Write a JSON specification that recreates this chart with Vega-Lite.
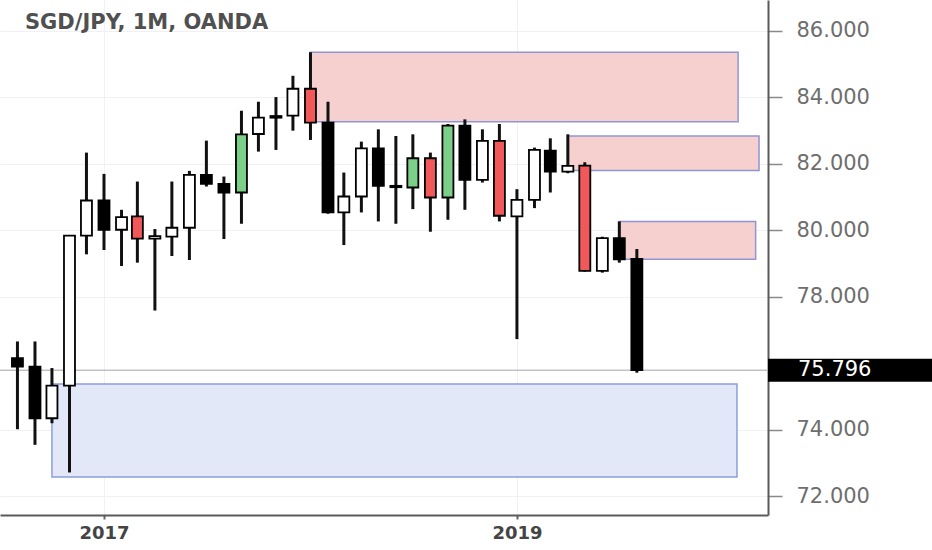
{
  "$schema": "https://vega.github.io/schema/vega-lite/v6.json",
  "width": 768,
  "height": 515,
  "autosize": {"type": "none"},
  "padding": {"left": 0, "top": 0, "right": 164, "bottom": 35},
  "background": "#ffffff",
  "title": {
    "text": "SGD/JPY, 1M, OANDA",
    "anchor": "start",
    "frame": "group",
    "orient": "top",
    "offset": 0,
    "dx": 25,
    "dy": 50,
    "baseline": "alphabetic",
    "font": "DejaVu Sans",
    "fontSize": 21,
    "fontWeight": "bold",
    "color": "#505050"
  },
  "config": {
    "view": {"stroke": null},
    "font": "DejaVu Sans",
    "axisY": {
      "orient": "right",
      "domainColor": "#5a5a5a",
      "domainWidth": 2,
      "tickColor": "#8a8a8a",
      "tickWidth": 1.5,
      "tickSize": 14,
      "labelPadding": 14,
      "labelFont": "DejaVu Sans",
      "labelFontSize": 21,
      "labelColor": "#6e6e6e",
      "gridColor": "#eff1f5",
      "gridWidth": 1,
      "title": null
    },
    "axisX": {
      "domainColor": "#5a5a5a",
      "domainWidth": 2,
      "tickColor": "#666666",
      "tickWidth": 2,
      "tickSize": 4,
      "labelPadding": 5,
      "labelFont": "DejaVu Sans",
      "labelFontSize": 18,
      "labelFontWeight": "bold",
      "labelColor": "#444444",
      "gridColor": "#eff1f5",
      "gridWidth": 1,
      "title": null
    }
  },
  "datasets": {
    "candles": [
      {"date": "2016-08-01", "open": 76.16, "high": 76.66, "low": 74.02, "close": 75.90, "kind": "bear"},
      {"date": "2016-09-01", "open": 75.90, "high": 76.66, "low": 73.55, "close": 74.35, "kind": "bear"},
      {"date": "2016-10-01", "open": 74.35, "high": 75.86, "low": 74.20, "close": 75.33, "kind": "bull"},
      {"date": "2016-11-01", "open": 75.33, "high": 79.84, "low": 72.72, "close": 79.84, "kind": "bull"},
      {"date": "2016-12-01", "open": 79.84, "high": 82.34, "low": 79.28, "close": 80.90, "kind": "bull"},
      {"date": "2017-01-01", "open": 80.90, "high": 81.70, "low": 79.41, "close": 80.02, "kind": "bear"},
      {"date": "2017-02-01", "open": 80.02, "high": 80.62, "low": 78.93, "close": 80.40, "kind": "bull"},
      {"date": "2017-03-01", "open": 80.42, "high": 81.47, "low": 79.03, "close": 79.75, "kind": "bear_mark"},
      {"date": "2017-04-01", "open": 79.75, "high": 80.04, "low": 77.59, "close": 79.83, "kind": "bull"},
      {"date": "2017-05-01", "open": 79.81, "high": 81.47, "low": 79.23, "close": 80.08, "kind": "bull"},
      {"date": "2017-06-01", "open": 80.08, "high": 81.79, "low": 79.11, "close": 81.67, "kind": "bull"},
      {"date": "2017-07-01", "open": 81.67, "high": 82.70, "low": 81.32, "close": 81.40, "kind": "bear"},
      {"date": "2017-08-01", "open": 81.40, "high": 81.62, "low": 79.74, "close": 81.14, "kind": "bear"},
      {"date": "2017-09-01", "open": 81.14, "high": 83.60, "low": 80.20, "close": 82.89, "kind": "bull_mark"},
      {"date": "2017-10-01", "open": 82.90, "high": 83.87, "low": 82.37, "close": 83.39, "kind": "bull"},
      {"date": "2017-11-01", "open": 83.39, "high": 84.01, "low": 82.42, "close": 83.44, "kind": "bear"},
      {"date": "2017-12-01", "open": 83.45, "high": 84.65, "low": 83.00, "close": 84.26, "kind": "bull"},
      {"date": "2018-01-01", "open": 84.26, "high": 85.36, "low": 82.72, "close": 83.24, "kind": "bear_mark"},
      {"date": "2018-02-01", "open": 83.24, "high": 83.87, "low": 80.50, "close": 80.54, "kind": "bear"},
      {"date": "2018-03-01", "open": 80.54, "high": 81.74, "low": 79.56, "close": 81.02, "kind": "bull"},
      {"date": "2018-04-01", "open": 81.02, "high": 82.67, "low": 80.54, "close": 82.47, "kind": "bull"},
      {"date": "2018-05-01", "open": 82.47, "high": 83.04, "low": 80.27, "close": 81.34, "kind": "bear"},
      {"date": "2018-06-01", "open": 81.34, "high": 82.84, "low": 80.20, "close": 81.30, "kind": "bear"},
      {"date": "2018-07-01", "open": 81.29, "high": 82.89, "low": 80.64, "close": 82.17, "kind": "bull_mark"},
      {"date": "2018-08-01", "open": 82.17, "high": 82.34, "low": 79.96, "close": 80.99, "kind": "bear_mark"},
      {"date": "2018-09-01", "open": 80.99, "high": 83.20, "low": 80.32, "close": 83.15, "kind": "bull_mark"},
      {"date": "2018-10-01", "open": 83.15, "high": 83.34, "low": 80.62, "close": 81.52, "kind": "bear"},
      {"date": "2018-11-01", "open": 81.52, "high": 83.04, "low": 81.44, "close": 82.69, "kind": "bull"},
      {"date": "2018-12-01", "open": 82.69, "high": 83.20, "low": 80.27, "close": 80.44, "kind": "bear_mark"},
      {"date": "2019-01-01", "open": 80.42, "high": 81.24, "low": 76.73, "close": 80.92, "kind": "bull"},
      {"date": "2019-02-01", "open": 80.92, "high": 82.49, "low": 80.67, "close": 82.42, "kind": "bull"},
      {"date": "2019-03-01", "open": 82.40, "high": 82.77, "low": 81.14, "close": 81.77, "kind": "bear"},
      {"date": "2019-04-01", "open": 81.77, "high": 82.89, "low": 81.72, "close": 81.94, "kind": "bull"},
      {"date": "2019-05-01", "open": 81.95, "high": 82.05, "low": 78.76, "close": 78.78, "kind": "bear_mark"},
      {"date": "2019-06-01", "open": 78.78, "high": 79.81, "low": 78.73, "close": 79.77, "kind": "bull"},
      {"date": "2019-07-01", "open": 79.77, "high": 80.27, "low": 79.03, "close": 79.13, "kind": "bear"},
      {"date": "2019-08-01", "open": 79.14, "high": 79.44, "low": 75.72, "close": 75.796, "kind": "bear"}
    ],
    "zones": [
      {"start": "2018-01-01", "end": "2020-01-27", "low": 83.27, "high": 85.36, "zone": "supply"},
      {"start": "2019-04-01", "end": "2020-03-04", "low": 81.80, "high": 82.84, "zone": "supply"},
      {"start": "2019-07-01", "end": "2020-02-27", "low": 79.13, "high": 80.27, "zone": "supply"},
      {"start": "2016-10-01", "end": "2020-01-25", "low": 72.58, "high": 75.38, "zone": "demand"}
    ],
    "last": [{"price": 75.796, "label": "75.796"}]
  },
  "layer": [
    {
      "data": {"name": "zones"},
      "mark": {"type": "rect", "strokeWidth": 1.5},
      "encoding": {
        "x": {"field": "start", "type": "temporal", "scale": {"type": "utc", "domain": ["2016-07-10", "2020-03-11"]},
              "axis": {"values": [{"year": 2017, "month": 1, "date": 1, "utc": true}, {"year": 2019, "month": 1, "date": 1, "utc": true}], "format": "%Y", "grid": true}},
        "x2": {"field": "end"},
        "y": {"field": "low", "type": "quantitative", "scale": {"domain": [71.44, 86.93], "nice": false, "zero": false},
              "axis": {"values": [72, 74, 78, 80, 82, 84, 86], "format": ".3f", "grid": true}},
        "y2": {"field": "high"},
        "fill": {"field": "zone", "type": "nominal", "scale": {"domain": ["supply", "demand"], "range": ["#f6cfcf", "#e3e8f8"]}, "legend": null},
        "stroke": {"field": "zone", "type": "nominal", "scale": {"domain": ["supply", "demand"], "range": ["#9096d4", "#8b9ddf"]}, "legend": null}
      }
    },
    {
      "data": {"name": "last"},
      "mark": {"type": "rule", "color": "#a3a3a3", "strokeWidth": 1},
      "encoding": {
        "y": {"field": "price", "type": "quantitative", "scale": {"domain": [71.44, 86.93], "nice": false, "zero": false}}
      }
    },
    {
      "data": {"name": "candles"},
      "mark": {"type": "rule", "color": "#111111", "strokeWidth": 3},
      "encoding": {
        "x": {"field": "date", "type": "temporal", "scale": {"type": "utc", "domain": ["2016-07-10", "2020-03-11"]}},
        "y": {"field": "low", "type": "quantitative", "scale": {"domain": [71.44, 86.93], "nice": false, "zero": false}},
        "y2": {"field": "high"}
      }
    },
    {
      "data": {"name": "candles"},
      "mark": {"type": "bar", "width": 11, "stroke": "#000000", "strokeWidth": 1.8},
      "encoding": {
        "x": {"field": "date", "type": "temporal", "scale": {"type": "utc", "domain": ["2016-07-10", "2020-03-11"]}},
        "y": {"field": "open", "type": "quantitative", "scale": {"domain": [71.44, 86.93], "nice": false, "zero": false}},
        "y2": {"field": "close"},
        "color": {"field": "kind", "type": "nominal", "scale": {"domain": ["bull", "bear", "bull_mark", "bear_mark"], "range": ["#ffffff", "#000000", "#7ccf89", "#f0585a"]}, "legend": null}
      }
    },
    {
      "data": {"name": "last"},
      "mark": {"type": "tick", "orient": "horizontal", "color": "#000000", "size": 164, "thickness": 23, "xOffset": 82, "opacity": 1},
      "encoding": {
        "x": {"value": "width"},
        "y": {"field": "price", "type": "quantitative", "scale": {"domain": [71.44, 86.93], "nice": false, "zero": false}}
      }
    },
    {
      "data": {"name": "last"},
      "mark": {"type": "text", "align": "left", "baseline": "middle", "dx": 30, "font": "DejaVu Sans", "fontSize": 21, "color": "#ffffff"},
      "encoding": {
        "x": {"value": "width"},
        "y": {"field": "price", "type": "quantitative", "scale": {"domain": [71.44, 86.93], "nice": false, "zero": false}},
        "text": {"field": "label"}
      }
    }
  ]
}
